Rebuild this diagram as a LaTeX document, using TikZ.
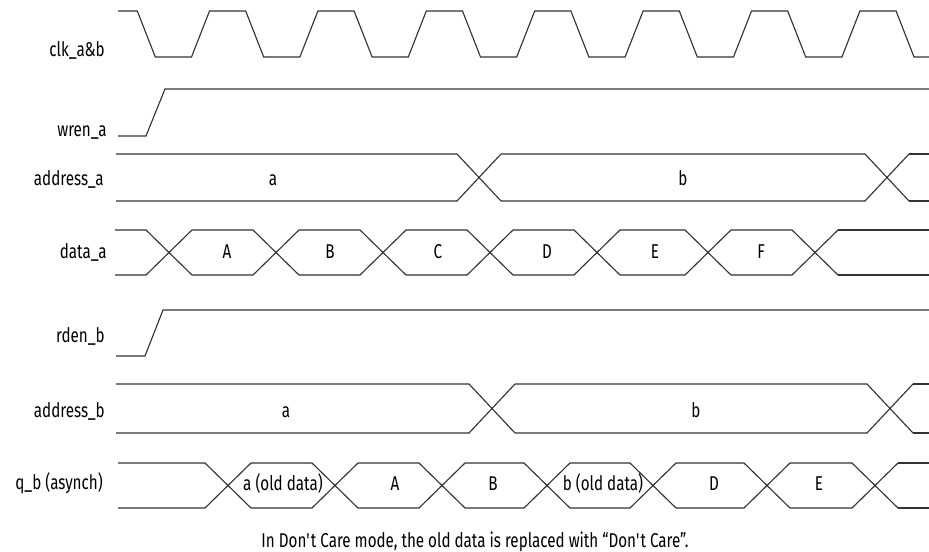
\documentclass[tikz,border=0pt]{standalone}
\usepackage{fontspec}
\setmainfont{Fira Sans}[FakeStretch=0.76]
\newcommand\busrow[6]{% #1 ytop, #2 ybot, #3 half width, #4 virtual previous crossing, #5 crossings, #6 xend
  \foreach \c [remember=\c as \p (initially #4)] in {#5}{
    \draw[wave] ({\p+#3},#1) -- ({\c-#3},#1) -- ({\c+#3},#2);
    \draw[wave] ({\p+#3},#2) -- ({\c-#3},#2) -- ({\c+#3},#1);
    \xdef\lastc{\c}
  }
  \draw[wave] ({\lastc+#3},#1) -- (#6,#1);
  \draw[wave] ({\lastc+#3},#2) -- (#6,#2);
}
\begin{document}
\begin{tikzpicture}[x=0.75pt,y=-0.75pt,
  wave/.style={line width=0.85pt, draw=black!80, line join=miter},
  sig/.style={anchor=base east, inner sep=0pt, font=\fontsize{15}{17}\selectfont},
  val/.style={anchor=base, inner sep=0pt, font=\fontsize{15}{17}\selectfont}]
\useasboundingbox (0,0) rectangle (929,552);

% signal names
\node[sig] (lclk)  at (105,57)  {clk\_a\&b};
\node[sig] (lwren) at (107,137) {wren\_a};
\node[sig] (laddra) at (104,186) {address\_a};
\node[sig] (ldata) at (107,259) {data\_a};
\node[sig] (lrden) at (105,343) {rden\_b};
\node[sig] (laddrb) at (105,417) {address\_b};
\node[sig] (lq) at (103,489) {q\_b (asynch)};

% clock
\draw[wave] (118,11) -- (137.3,11)
  \foreach \k in {0,...,6}{
    -- ({137.3+108.4*\k+18},57) -- ({137.3+108.4*\k+54.2},57)
    -- ({137.3+108.4*\k+72.2},11) -- ({137.3+108.4*\k+108.4},11)}
  -- (914,57) -- (929,57);

% wren_a
\draw[wave] (118,136) -- (146,136) -- (165,89) -- (929,89);
% rden_b
\draw[wave] (116,356) -- (145,356) -- (163,310) -- (929,310);

% address_a
\busrow{154}{201}{22}{94}{479,887}{929}
\node[val] (aa1) at (273,186) {a};
\node[val] (aa2) at (683,186) {b};

% data_a
\busrow{230}{275}{23}{92}{169,276,383,490,597,708,815}{929}
\node[val] (dA) at (227,259) {A};
\node[val] (dB) at (330,259) {B};
\node[val] (dC) at (438,259) {C};
\node[val] (dD) at (547,259) {D};
\node[val] (dE) at (655,259) {E};
\node[val] (dF) at (761,259) {F};

% address_b
\busrow{384}{433}{23}{93}{492,890}{929}
\node[val] (ab1) at (286,417) {a};
\node[val] (ab2) at (696,417) {b};

% q_b
\busrow{463}{508}{23}{95}{228,335,442,547,653,767,875}{929}
\node[val] (q1) at (283,490) {a (old data)};
\node[val] (q2) at (395,490) {A};
\node[val] (q3) at (493,490) {B};
\node[val] (q4) at (603,490) {b (old data)};
\node[val] (q5) at (714,490) {D};
\node[val] (q6) at (819,490) {E};

% caption
\node[val] (cap) at (475,547) {In Don\textquotesingle t Care mode, the old data is replaced with “Don\textquotesingle t Care”.};
\end{tikzpicture}
\end{document}
